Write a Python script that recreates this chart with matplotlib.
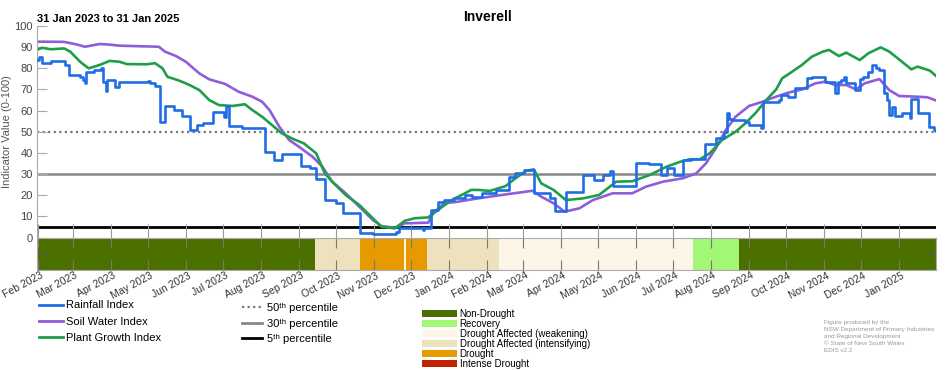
import matplotlib
matplotlib.use("Agg")
import matplotlib.pyplot as plt
import matplotlib.dates as mdates
from matplotlib.lines import Line2D
from matplotlib.patches import Patch
from matplotlib.transforms import ScaledTranslation
import pandas as pd

plt.rcParams['font.family'] = ['Liberation Sans', 'DejaVu Sans']

# Rainfall Index (step series: date the value starts, value)
rain_dates = ["2023-01-31", "2023-02-02", "2023-02-04", "2023-02-11", "2023-02-23", "2023-02-26",
              "2023-03-07", "2023-03-09", "2023-03-11", "2023-03-12", "2023-03-18", "2023-03-24",
              "2023-03-26", "2023-03-28", "2023-03-29", "2023-04-04", "2023-04-08", "2023-05-01",
              "2023-05-03", "2023-05-07", "2023-05-11", "2023-05-15", "2023-05-22", "2023-05-29",
              "2023-06-04", "2023-06-10", "2023-06-15", "2023-06-23", "2023-07-02", "2023-07-04",
              "2023-07-06", "2023-07-17", "2023-08-04", "2023-08-12", "2023-08-18", "2023-09-03",
              "2023-09-10", "2023-09-15", "2023-09-22", "2023-10-01", "2023-10-07", "2023-10-21",
              "2023-10-31", "2023-11-19", "2023-11-21", "2023-12-11", "2023-12-12", "2023-12-17",
              "2023-12-23", "2023-12-28", "2024-01-05", "2024-01-14", "2024-01-20", "2024-01-28",
              "2024-02-08", "2024-02-19", "2024-02-24", "2024-03-02", "2024-03-10", "2024-03-23",
              "2024-03-27", "2024-04-02", "2024-04-05", "2024-04-19", "2024-04-28", "2024-05-05",
              "2024-05-11", "2024-05-13", "2024-06-01", "2024-06-12", "2024-06-21", "2024-06-26",
              "2024-07-02", "2024-07-09", "2024-07-16", "2024-07-27", "2024-08-05", "2024-08-12",
              "2024-08-14", "2024-08-16", "2024-08-18", "2024-08-29", "2024-09-01", "2024-09-11",
              "2024-09-12", "2024-09-25", "2024-09-27", "2024-10-03", "2024-10-08", "2024-10-18",
              "2024-10-22", "2024-11-02", "2024-11-10", "2024-11-12", "2024-11-15", "2024-11-17",
              "2024-11-19", "2024-11-26", "2024-11-30", "2024-12-03", "2024-12-07", "2024-12-10",
              "2024-12-13", "2024-12-16", "2024-12-20", "2024-12-22", "2024-12-24", "2024-12-26",
              "2024-12-29", "2025-01-03", "2025-01-10", "2025-01-11", "2025-01-16", "2025-01-25",
              "2025-01-29", "2025-01-31"]
rain_values = [84, 85.5, 82.3, 83.5, 81.5, 76.8,
               75.7, 74.5, 72.9, 78.4, 79.2, 80.3,
               73.7, 69.4, 74.5, 71, 73.7, 74.2,
               73.2, 71.6, 54.8, 62.2, 60.3, 57.4,
               50.8, 53.2, 54.3, 59.5, 56.8, 62.2,
               52.7, 51.6, 40.6, 36.6, 39.5, 33.8,
               33, 27.7, 17.7, 16.2, 11.7, 2,
               1.6, 2.7, 4.5, 3.5, 4.5, 13,
               17, 17.7, 18.5, 20, 19.3, 20.9,
               22.5, 28.7, 30.3, 31.9, 20.9, 18.5,
               12.7, 12.3, 21.7, 29.5, 27.2, 29.5,
               31.6, 24.5, 35.1, 34.7, 29.5, 32.7,
               29.5, 36.6, 37, 44.2, 46.9, 50,
               58.7, 56, 55.6, 54.8, 53.2, 51.9,
               64.2, 65, 67.4, 66.3, 70.5, 75.3,
               76, 73.7, 68.5, 73.7, 74.5, 76,
               72.9, 69.7, 75, 76, 78.4, 81.6,
               80, 79.2, 68.2, 65, 57.9, 61.8,
               57.4, 58.7, 56.4, 65.3, 58.7, 52.4,
               50.8, 50.5]

soil_dates = ["2023-01-31", "2023-02-22", "2023-03-04", "2023-03-11", "2023-03-23", "2023-03-31",
              "2023-04-08", "2023-05-10", "2023-05-15", "2023-05-24", "2023-06-01", "2023-06-12",
              "2023-06-20", "2023-07-03", "2023-07-14", "2023-07-25", "2023-08-02", "2023-08-08",
              "2023-08-16", "2023-08-24", "2023-09-01", "2023-09-12", "2023-09-20", "2023-09-28",
              "2023-10-09", "2023-10-20", "2023-10-31", "2023-11-07", "2023-11-18", "2023-11-26",
              "2023-12-15", "2023-12-19", "2023-12-28", "2024-01-08", "2024-01-19", "2024-02-03",
              "2024-02-19", "2024-03-09", "2024-03-16", "2024-03-26", "2024-04-04", "2024-04-16",
              "2024-04-27", "2024-05-13", "2024-05-29", "2024-06-09", "2024-06-23", "2024-07-09",
              "2024-07-20", "2024-07-28", "2024-08-05", "2024-08-13", "2024-08-21", "2024-09-01",
              "2024-09-12", "2024-09-23", "2024-10-03", "2024-10-14", "2024-10-25", "2024-11-02",
              "2024-11-10", "2024-11-19", "2024-11-27", "2024-12-04", "2024-12-16", "2024-12-24",
              "2025-01-01", "2025-01-15", "2025-01-24", "2025-01-31"]
soil_values = [92.6, 92.5, 91.3, 90.2, 91.5, 91.2,
               90.7, 90.2, 87.9, 85.8, 83.1, 77.6,
               74.8, 72.6, 68.9, 66.6, 64.2, 60.3,
               52.4, 46.1, 42.9, 38.2, 33.5, 26.4,
               20.9, 14.6, 8.3, 5.4, 4.6, 6.7,
               7.0, 11.4, 16.2, 16.9, 18.0, 19.3,
               20.6, 22.1, 19.3, 16.2, 12.2, 13.8,
               17.7, 20.9, 20.9, 24.0, 26.4, 28.0,
               30.3, 35.1, 42.2, 50.8, 57.1, 62.2,
               64.2, 66.6, 68.5, 70.0, 72.9, 73.7,
               72.1, 72.1, 70.0, 72.9, 74.9, 69.7,
               66.9, 66.6, 66.3, 64.8]

plant_dates = ["2023-01-31", "2023-02-04", "2023-02-11", "2023-02-22", "2023-02-27", "2023-03-07",
               "2023-03-14", "2023-03-23", "2023-03-31", "2023-04-08", "2023-04-14", "2023-04-30",
               "2023-05-07", "2023-05-13", "2023-05-17", "2023-05-27", "2023-06-04", "2023-06-12",
               "2023-06-20", "2023-06-28", "2023-07-09", "2023-07-19", "2023-07-25", "2023-08-02",
               "2023-08-10", "2023-08-18", "2023-08-26", "2023-09-05", "2023-09-15", "2023-09-22",
               "2023-09-28", "2023-10-09", "2023-10-20", "2023-10-31", "2023-11-07", "2023-11-18",
               "2023-11-26", "2023-12-04", "2023-12-15", "2023-12-23", "2024-01-03", "2024-01-14",
               "2024-01-19", "2024-01-25", "2024-02-03", "2024-02-16", "2024-02-24", "2024-03-04",
               "2024-03-10", "2024-03-16", "2024-03-26", "2024-04-05", "2024-04-19", "2024-05-02",
               "2024-05-16", "2024-05-29", "2024-06-12", "2024-06-26", "2024-07-07", "2024-07-15",
               "2024-07-23", "2024-07-31", "2024-08-10", "2024-08-21", "2024-08-29", "2024-09-06",
               "2024-09-15", "2024-09-23", "2024-09-28", "2024-10-06", "2024-10-14", "2024-10-22",
               "2024-10-31", "2024-11-05", "2024-11-13", "2024-11-19", "2024-11-30", "2024-12-07",
               "2024-12-17", "2024-12-24", "2025-01-01", "2025-01-11", "2025-01-16", "2025-01-26",
               "2025-01-31"]
plant_values = [88.7, 89.7, 89.0, 89.4, 87.9, 83.1,
                80.0, 81.6, 83.5, 83.1, 82.0, 81.9,
                82.4, 80.0, 76.0, 74.1, 72.1, 69.7,
                65.0, 62.6, 62.2, 63.0, 60.3, 57.1,
                53.2, 49.3, 46.9, 44.5, 39.8, 30.3,
                26.4, 20.1, 15.4, 9.1, 5.1, 4.3,
                7.9, 9.1, 9.5, 13.0, 17.7, 20.9,
                22.5, 22.5, 22.0, 24.3, 28.0, 31.6,
                32.2, 25.6, 22.5, 17.7, 18.5, 20.1,
                26.4, 26.6, 29.5, 33.5, 35.8, 37.0,
                37.0, 39.8, 46.1, 50.0, 54.0, 58.7,
                65.0, 70.0, 75.3, 78.4, 81.6, 85.5,
                87.9, 88.7, 85.8, 87.4, 83.9, 87.1,
                89.9, 87.9, 84.2, 79.5, 80.8, 78.9,
                76.4]

# drought category periods
band_starts = ["2023-01-31", "2023-09-14", "2023-10-21", "2023-11-25", "2023-11-27",
               "2023-12-14", "2024-02-11", "2024-07-17", "2024-08-24"]
band_ends = ["2023-09-14", "2023-10-21", "2023-11-25", "2023-11-27", "2023-12-14",
             "2024-02-11", "2024-07-17", "2024-08-24", "2025-01-31"]
band_cats = ["Non-Drought", "Drought Affected (intensifying)", "Drought",
             "Drought Affected (weakening)", "Drought", "Drought Affected (intensifying)",
             "Drought Affected (weakening)", "Recovery", "Non-Drought"]

categories = ["Non-Drought", "Recovery", "Drought Affected (weakening)",
              "Drought Affected (intensifying)", "Drought", "Intense Drought"]
cat_colors = ["#4c7000", "#a2f777", "#fdf5e7", "#eee1bd", "#e69a00", "#c22300"]

percentiles = [50, 30, 5]

blue = "#1f6ee6"
purple = "#8f5ddc"
green = "#1f9e4a"

fig = plt.figure(figsize=(9.52, 3.70), dpi=100)
ax = fig.add_axes([0.0389, 0.3581, 0.9443, 0.5716])
bax = fig.add_axes([0.0389, 0.2703, 0.9443, 0.0865], sharex=ax)

ax.axhline(percentiles[0], color="#777777", lw=1.6, ls=(0, (1, 1.5)), zorder=1)
ax.axhline(percentiles[1], color="#888888", lw=1.8, zorder=1)
ax.axhline(percentiles[2], color="black", lw=2.0, zorder=1)

ax.step(pd.to_datetime(rain_dates), rain_values, where="post", color=blue, lw=1.9, zorder=3)
ax.plot(pd.to_datetime(soil_dates), soil_values, color=purple, lw=1.9, zorder=2)
ax.plot(pd.to_datetime(plant_dates), plant_values, color=green, lw=1.9, zorder=2)

start = pd.Timestamp("2023-01-31")
end = pd.Timestamp("2025-01-31")
ax.set_xlim(start, end)
ax.set_ylim(0, 100)
ax.set_yticks(range(0, 101, 10))
ax.tick_params(axis="y", direction="in", length=7, color="#aaaaaa", labelsize=8,
               labelcolor="#444444", pad=3)
ax.tick_params(axis="x", direction="in", length=10, color="#999999", labelbottom=False)
for s in ["top", "right", "bottom"]:
    ax.spines[s].set_visible(False)
ax.spines["left"].set_color("#aaaaaa")
ax.spines["left"].set_linewidth(0.8)
ax.set_ylabel("Indicator Value (0-100)", fontsize=8, color="#555555")
ax.yaxis.set_label_coords(-0.028, 0.5)

colour_of = dict(zip(categories, cat_colors))
for s, e, c in zip(band_starts, band_ends, band_cats):
    bax.axvspan(pd.Timestamp(s), pd.Timestamp(e), color=colour_of[c], lw=0)
bax.set_ylim(0, 1)
bax.set_yticks([0.5])
bax.set_yticklabels([])
bax.tick_params(axis="y", direction="in", length=8, color="#555555", left=True, right=True)
bax.xaxis.set_major_locator(mdates.MonthLocator())
bax.xaxis.set_major_formatter(mdates.DateFormatter("%b %Y"))
bax.tick_params(axis="x", direction="in", length=7, color="#777777", top=True, bottom=True,
                labelsize=7.5, labelcolor="#333333", pad=0.5)
shift = ScaledTranslation(2 / 100, 0, fig.dpi_scale_trans)
for lab in bax.get_xticklabels():
    lab.set_rotation(28)
    lab.set_ha("right")
    lab.set_rotation_mode("anchor")
    lab.set_transform(lab.get_transform() + shift)
for s in bax.spines.values():
    s.set_color("#aaaaaa")
    s.set_linewidth(0.8)

fig.text(0.512, 0.955, "Inverell", ha="center", va="center", fontsize=10, fontweight="bold")
fig.text(0.0389, 0.948, "31 Jan 2023 to 31 Jan 2025", ha="left", va="center", fontsize=8,
         fontweight="bold")

h1 = [Line2D([], [], color=blue, lw=2), Line2D([], [], color=purple, lw=2),
      Line2D([], [], color=green, lw=2)]
fig.legend(h1, ["Rainfall Index", "Soil Water Index", "Plant Growth Index"],
           loc="upper left", bbox_to_anchor=(0.036, 0.2), frameon=False, fontsize=8,
           handlelength=2.2, handletextpad=0.25, labelspacing=0.55, borderaxespad=0)

h2 = [Line2D([], [], color="#777777", lw=1.6, ls=(0, (1, 1.5))),
      Line2D([], [], color="#888888", lw=2),
      Line2D([], [], color="black", lw=2)]
leg2 = fig.legend(h2, [f"{p}\u1d57\u02b0 percentile" for p in percentiles],
                  loc="upper left", bbox_to_anchor=(0.25, 0.193), frameon=False, fontsize=8,
                  handlelength=1.8, handletextpad=0.4, labelspacing=0.5, borderaxespad=0)

h3 = [Patch(facecolor=c, edgecolor="none") for c in cat_colors]
fig.legend(h3, categories, loc="upper left", bbox_to_anchor=(0.439, 0.175), frameon=False,
           fontsize=7, handlelength=3.6, handleheight=0.8, handletextpad=0.3,
           labelspacing=0.0, borderaxespad=0)

fig.text(0.866, 0.135, "Figure produced by the\nNSW Department of Primary Industries\n"
         "and Regional Development\n\u00a9 State of New South Wales\nEDIS v2.2",
         ha="left", va="top", fontsize=4.6, color="#999999", linespacing=1.5)

fig.savefig("out.png", dpi=100)
